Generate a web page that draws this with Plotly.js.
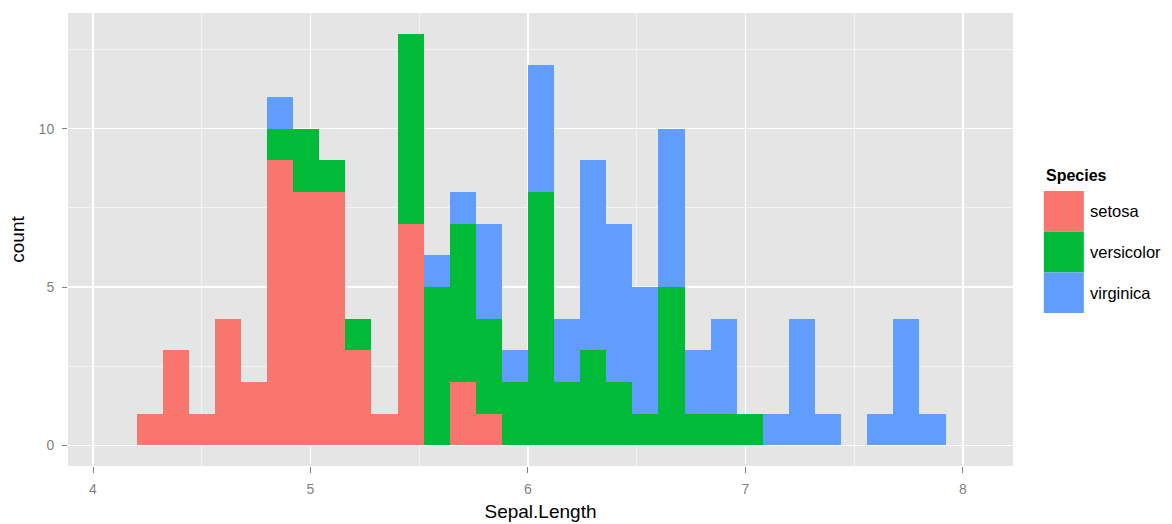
<!DOCTYPE html>
<html>
<head>
<meta charset="utf-8">
<script src="https://cdn.plot.ly/plotly-3.0.1.min.js"></script>
<style>html,body{margin:0;padding:0;background:#fff;}#chart{width:1172px;height:524px;}</style>
</head>
<body>
<div id="chart"></div>
<script>
// Bin centers (Sepal.Length bins of width 0.12 starting at 4.20)
const binCenters = [4.26,4.38,4.50,4.62,4.74,4.86,4.98,5.10,5.22,5.34,5.46,5.58,5.70,5.82,5.94,6.06,6.18,6.30,6.42,6.54,6.66,6.78,6.90,7.02,7.14,7.26,7.38,7.50,7.62,7.74,7.86];
const binWidth = 0.12;
const species = ["setosa","versicolor","virginica"];
const setosa     = [1,3,1,4,2,9,8,8,3,1,7,0,2,1,0,0,0,0,0,0,0,0,0,0,0,0,0,0,0,0,0];
const versicolor = [0,0,0,0,0,1,2,1,1,0,6,5,5,3,2,8,2,3,2,1,5,1,1,1,0,0,0,0,0,0,0];
const virginica  = [0,0,0,0,0,1,0,0,0,0,0,1,1,3,1,4,2,6,5,4,5,2,3,0,1,4,1,0,1,4,1];
const xTicks = [4,5,6,7,8];
const yTicks = [0,5,10];
const colors = ["#F8766D","#00BA38","#619CFF"];

const series = [setosa, versicolor, virginica];
const traces = series.map((vals,i)=>({
  type:'bar', x:binCenters, y:vals, width:binWidth, name:species[i],
  marker:{color:colors[i], line:{width:0}}, showlegend:false, hoverinfo:'x+y+name'
}));

const L=68, R=1012.7, T=12.7, B=465.7;
const W=1172, H=524;
const px2x = p => (p-L)/(R-L);
const py2y = p => (B-p)/(B-T);
const FONT = 'Liberation Sans, Arial, sans-serif';

const shapes = [];
const annotations = [];
const keyTop = 190.7, keyH = 40.7, keyL = 1043.5, keyR = 1083.5;
species.forEach((s,i)=>{
  const y0 = keyTop + i*keyH, y1 = y0 + keyH;
  shapes.push({type:'rect', xref:'paper', yref:'paper', x0:px2x(keyL), x1:px2x(keyR), y0:py2y(y1), y1:py2y(y0), fillcolor:colors[i], line:{width:0}});
  annotations.push({xref:'paper', yref:'paper', x:px2x(1088), y:py2y((y0+y1)/2), xanchor:'left', yanchor:'middle', text:s, showarrow:false, font:{family:FONT, size:16.5, color:'#000'}});
});
annotations.push({xref:'paper', yref:'paper', x:px2x(1044), y:py2y(175), xanchor:'left', yanchor:'middle', text:'<b>Species</b>', showarrow:false, font:{family:FONT, size:16, color:'#000'}});

const layout = {
  width:W, height:H,
  margin:{l:L, r:W-R, t:T, b:H-B, pad:0},
  paper_bgcolor:'#ffffff', plot_bgcolor:'#E5E5E5',
  barmode:'stack', bargap:0,
  font:{family:FONT, color:'#7F7F7F'},
  xaxis:{range:[3.885,8.23], tickvals:xTicks, ticktext:xTicks.map(String), ticks:'outside', ticklen:6, tickcolor:'#7F7F7F', tickwidth:1,
    ticklabelstandoff:4,
    showgrid:true, gridcolor:'#ffffff', gridwidth:1.6, zeroline:false, showline:false,
    minor:{dtick:0.5, tick0:0, showgrid:true, gridcolor:'#F4F4F4', gridwidth:1, ticks:''},
    tickfont:{size:14, color:'#7F7F7F'},
    title:{text:'Sepal.Length', font:{size:19, color:'#000'}, standoff:8}},
  yaxis:{range:[-0.65,13.65], tickvals:yTicks, ticktext:yTicks.map(String), ticks:'outside', ticklen:5, tickcolor:'#7F7F7F', tickwidth:1,
    ticklabelstandoff:5,
    showgrid:true, gridcolor:'#ffffff', gridwidth:1.6, zeroline:false, showline:false,
    minor:{dtick:2.5, tick0:0, showgrid:true, gridcolor:'#F4F4F4', gridwidth:1, ticks:''},
    tickfont:{size:14, color:'#7F7F7F'},
    title:{text:'count', font:{size:19, color:'#000'}, standoff:8}},
  shapes:shapes, annotations:annotations, showlegend:false
};
Plotly.newPlot('chart', traces, layout, {staticPlot:true, displayModeBar:false});
</script>
</body>
</html>
